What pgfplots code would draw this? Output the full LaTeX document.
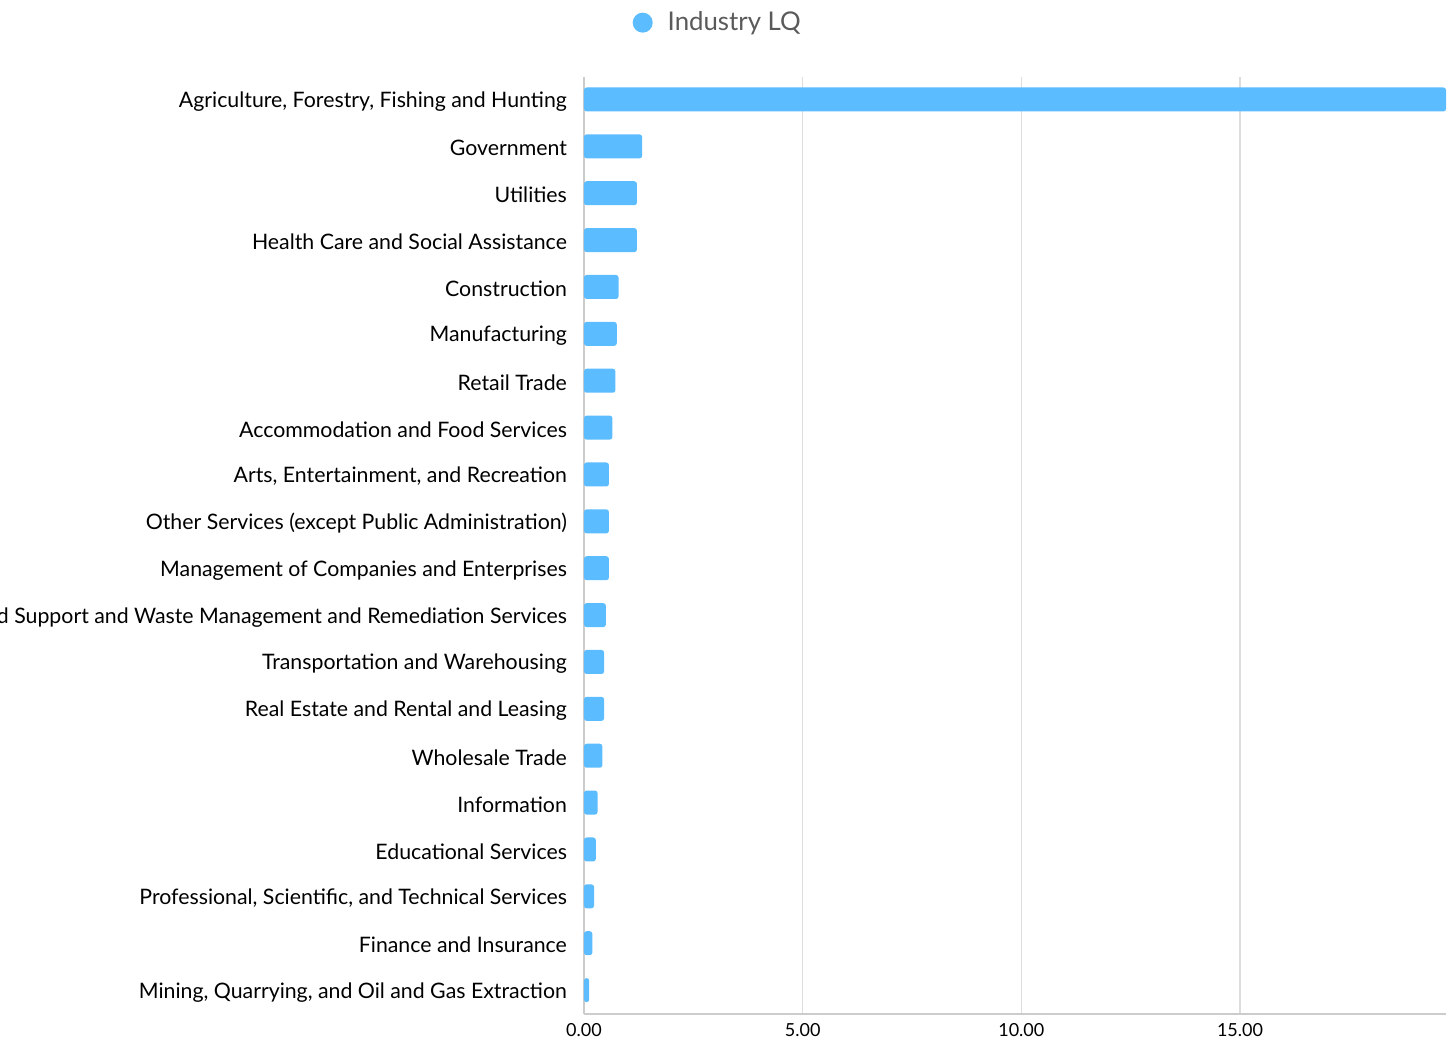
\documentclass[border=0pt]{standalone}
\usepackage{pgfplots}
\pgfplotsset{compat=1.18}
\usepackage{fontspec}
\setmainfont{Lato}
\definecolor{barblue}{HTML}{5BBCFF}
\definecolor{gridgray}{HTML}{DDDDDD}
\definecolor{axisgray}{HTML}{CCCCCC}
\definecolor{legtext}{HTML}{5A5A5A}
\begin{document}
\begin{tikzpicture}
\begin{axis}[
  scale only axis,
  width=431pt, height=468.5pt,
  xbar, bar width=12pt,
  xmin=0, xmax=19.71,
  ymin=-0.48, ymax=19.51,
  y dir=reverse,
  axis lines*=left,
  axis line style={axisgray, line width=0.8pt},
  xtick={0,5,10,15},
  xticklabels={0.00,5.00,10.00,15.00},
  xmajorgrids, grid style={gridgray, line width=0.8pt},
  ytick={0,...,19},
  yticklabels={
    {Agriculture, Forestry, Fishing and Hunting},
    {Government},
    {Utilities},
    {Health Care and Social Assistance},
    {Construction},
    {Manufacturing},
    {Retail Trade},
    {Accommodation and Food Services},
    {Arts, Entertainment, and Recreation},
    {Other Services (except Public Administration)},
    {Management of Companies and Enterprises},
    {Administrative and Support and Waste Management and Remediation Services},
    {Transportation and Warehousing},
    {Real Estate and Rental and Leasing},
    {Wholesale Trade},
    {Information},
    {Educational Services},
    {Professional, Scientific, and Technical Services},
    {Finance and Insurance},
    {Mining, Quarrying, and Oil and Gas Extraction}},
  major tick length=0pt,
  y tick label style={font=\fontsize{10.65}{12}\selectfont, black, xshift=-5pt, yshift=-1pt},
  x tick label style={font=\fontsize{9}{10}\selectfont, black, yshift=-1pt},
  legend style={at={(0.1563,1.058)}, anchor=center, draw=none, fill=none,
    font=\fontsize{12.9}{14}\selectfont\color{legtext}, legend cell align=left,
    /tikz/every odd column/.append style={column sep=5.5pt}},
  legend image code/.code={\fill[barblue] (-2.7pt,0cm) circle (5pt);},
]
\addplot[fill=barblue, draw=none, rounded corners=1.3pt] coordinates {
  (19.71,0) (1.33,1) (1.21,2) (1.21,3) (0.79,4) (0.75,5) (0.72,6) (0.65,7)
  (0.57,8) (0.57,9) (0.57,10) (0.50,11) (0.46,12) (0.46,13) (0.42,14)
  (0.31,15) (0.27,16) (0.23,17) (0.19,18) (0.12,19)};
\addlegendentry{Industry LQ}
\coordinate (sw) at (rel axis cs:0,0);
\coordinate (ne) at (rel axis cs:1,1);
\end{axis}
\pgfresetboundingbox
\path[use as bounding box] ([xshift=-292pt,yshift=-14pt]sw) rectangle ([xshift=4.5pt,yshift=38.5pt]ne);
\end{tikzpicture}
\end{document}
